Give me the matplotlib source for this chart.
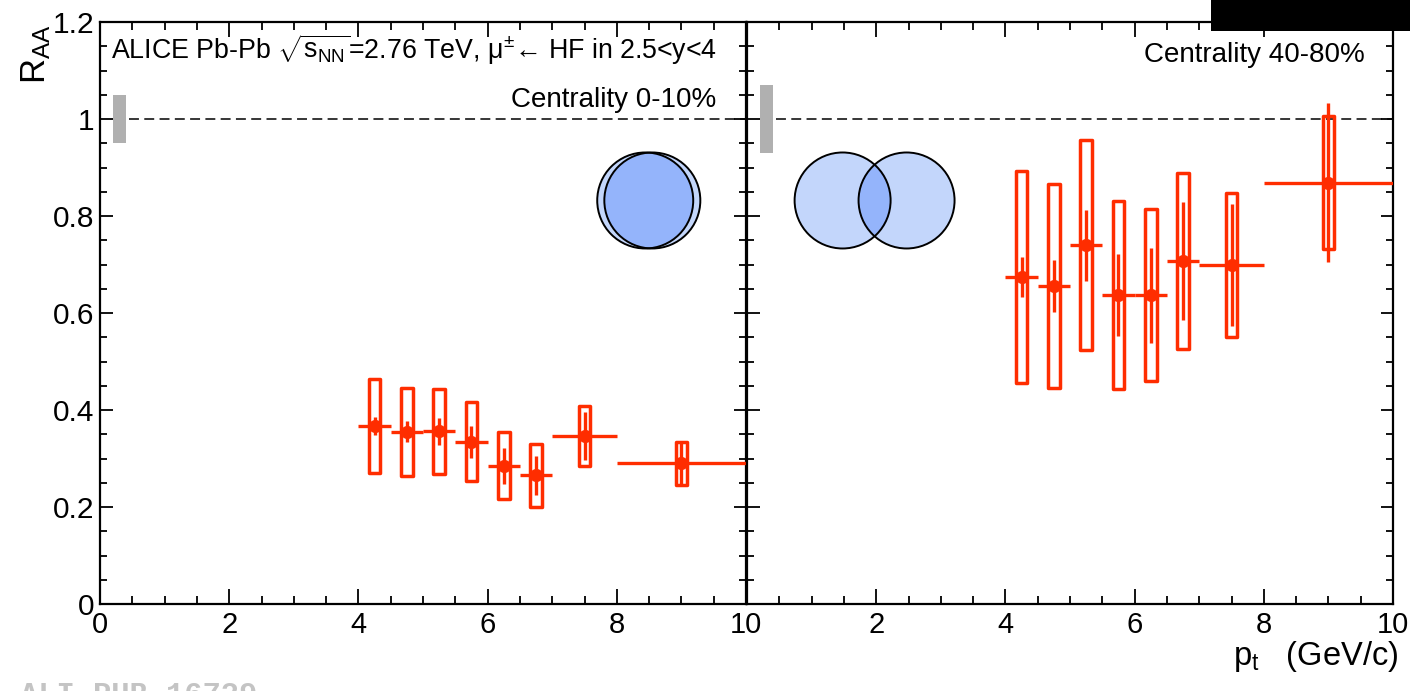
import matplotlib
matplotlib.use("Agg")
import matplotlib.pyplot as plt
from matplotlib.patches import Rectangle, Ellipse
from matplotlib.ticker import MultipleLocator, FuncFormatter

plt.rcParams['font.family'] = ['Liberation Sans', 'DejaVu Sans']
plt.rcParams['mathtext.fontset'] = 'custom'
plt.rcParams['mathtext.rm'] = 'Liberation Sans'
plt.rcParams['mathtext.it'] = 'Liberation Sans:italic'
plt.rcParams['mathtext.bf'] = 'Liberation Sans:bold'

# ---------------- data ----------------
pt_center = [4.25, 4.75, 5.25, 5.75, 6.25, 6.75, 7.5, 9.0]
pt_low = [4.0, 4.5, 5.0, 5.5, 6.0, 6.5, 7.0, 8.0]
pt_high = [4.5, 5.0, 5.5, 6.0, 6.5, 7.0, 8.0, 10.0]

raa_central = [0.367, 0.355, 0.356, 0.335, 0.285, 0.265, 0.346, 0.290]
stat_central = [0.019, 0.022, 0.028, 0.033, 0.037, 0.040, 0.049, 0.044]
syst_central = [0.096, 0.091, 0.087, 0.082, 0.069, 0.064, 0.062, 0.045]

raa_periph = [0.674, 0.656, 0.740, 0.637, 0.637, 0.707, 0.699, 0.869]
stat_periph = [0.042, 0.053, 0.073, 0.084, 0.098, 0.122, 0.126, 0.163]
syst_periph = [0.219, 0.210, 0.217, 0.193, 0.177, 0.182, 0.148, 0.137]

norm_unc = [0.05, 0.07]           # grey boxes at R_AA = 1
circle_x_central = [8.44, 8.55]
circle_x_periph = [1.48, 2.47]
circle_y = 0.832

x_ticks = [0, 2, 4, 6, 8, 10]
y_ticks = [0, 0.2, 0.4, 0.6, 0.8, 1.0, 1.2]

RED = '#ff2d00'
LIGHT = '#c3d6fb'
DARK = '#94b4fb'

W, H = 1410, 691
fig = plt.figure(figsize=(W / 100, H / 100), dpi=100)
bottom = 1 - 604 / H
height = 582 / H
ax1 = fig.add_axes([100 / W, bottom, 646 / W, height])
ax2 = fig.add_axes([747 / W, bottom, 646 / W, height])


def style(ax, show_y):
    ax.set_xlim(0, 10)
    ax.set_ylim(0, 1.2)
    ax.set_xticks(x_ticks)
    ax.set_yticks(y_ticks)
    ax.xaxis.set_minor_locator(MultipleLocator(0.5))
    ax.yaxis.set_minor_locator(MultipleLocator(0.05))
    ax.tick_params(which='both', direction='in', top=True, right=True,
                   width=1.3, colors='black')
    ax.tick_params(axis='x', which='major', length=11, pad=5, labelsize=21)
    ax.tick_params(axis='x', which='minor', length=6)
    ax.tick_params(axis='y', which='major', length=9, pad=4, labelsize=21.5)
    ax.tick_params(axis='y', which='minor', length=5)
    for s in ax.spines.values():
        s.set_linewidth(1.6)
    if show_y:
        ax.yaxis.set_major_formatter(FuncFormatter(lambda v, p: '%g' % round(v, 2)))
    else:
        ax.set_yticklabels([])


style(ax1, True)
style(ax2, False)
ax1.xaxis.set_major_formatter(FuncFormatter(lambda v, p: '%g' % v))
ax2.xaxis.set_major_formatter(FuncFormatter(lambda v, p: '' if v == 0 else '%g' % v))


def draw_panel(ax, raa, stat, syst, norm):
    # reference line and normalisation box
    ax.plot([0.45, 10], [1, 1], ls=(0, (6.5, 3.5)), color='black', lw=1.1, zorder=2)
    ax.add_patch(Rectangle((0.2, 1 - norm), 0.2, 2 * norm, facecolor='#b0b0b0',
                           edgecolor='none', zorder=2))
    bw = 0.09
    for xc, lo, hi, y, st, sy in zip(pt_center, pt_low, pt_high, raa, stat, syst):
        ax.add_patch(Rectangle((xc - bw, y - sy), 2 * bw, 2 * sy, facecolor='none',
                               edgecolor=RED, lw=2.5, joinstyle='round', zorder=3))
        ax.plot([lo, hi], [y, y], color=RED, lw=2.4, solid_capstyle='butt', zorder=4)
        ax.plot([xc, xc], [y - st, y + st], color=RED, lw=2.4, solid_capstyle='butt', zorder=4)
        ax.plot([xc], [y], 'o', color=RED, ms=8.5, zorder=5)


draw_panel(ax1, raa_central, stat_central, syst_central, norm_unc[0])
draw_panel(ax2, raa_periph, stat_periph, syst_periph, norm_unc[1])


def venn(ax, xs, y):
    r_px = 48.0
    bb = ax.get_window_extent()
    wd = 2 * r_px * 10 / bb.width
    ht = 2 * r_px * 1.2 / bb.height
    c1 = Ellipse((xs[0], y), wd, ht, facecolor=LIGHT, edgecolor='none', zorder=6)
    c2 = Ellipse((xs[1], y), wd, ht, facecolor=LIGHT, edgecolor='none', zorder=6)
    ax.add_patch(c1)
    ax.add_patch(c2)
    ov = Ellipse((xs[1], y), wd, ht, facecolor=DARK, edgecolor='none', zorder=6.5)
    ax.add_patch(ov)
    ov.set_clip_path(c1)
    for x in xs:
        ax.add_patch(Ellipse((x, y), wd, ht, facecolor='none', edgecolor='black',
                             lw=1.4, zorder=7))


venn(ax1, circle_x_central, circle_y)
venn(ax2, circle_x_periph, circle_y)

# texts
fig.text(111 / W, 1 - 59 / H,
         r'ALICE Pb-Pb $\sqrt{\mathregular{s}_{\mathregular{NN}}}$=2.76 TeV, μ$^{\pm}$← HF in 2.5<y<4',
         fontsize=19.3, ha='left', va='baseline')
fig.text(716 / W, 1 - 107 / H, 'Centrality 0-10%', fontsize=20, ha='right', va='baseline')
fig.text(1365 / W, 1 - 62 / H, 'Centrality 40-80%', fontsize=20, ha='right', va='baseline')

fig.text(1398 / W, 1 - 665 / H, r'p$_{\mathregular{t}}$   (GeV/c)', fontsize=23.5,
         ha='right', va='baseline')
fig.text(36 / W, 1 - 24 / H, r'R$_{\mathregular{AA}}$', fontsize=25, rotation=90,
         ha='center', va='top')

fig.text(20 / W, 1 - 681 / H, 'ALI-PUB-16739', fontsize=22, family='Liberation Mono',
         weight='bold', color='#c4c4c4', ha='left', va='top')

fig.patches.append(Rectangle((1211 / W, 1 - 31 / H), (W - 1211) / W, 31 / H,
                             transform=fig.transFigure, facecolor='black',
                             edgecolor='none', zorder=20))

fig.savefig('out.png', dpi=100)
